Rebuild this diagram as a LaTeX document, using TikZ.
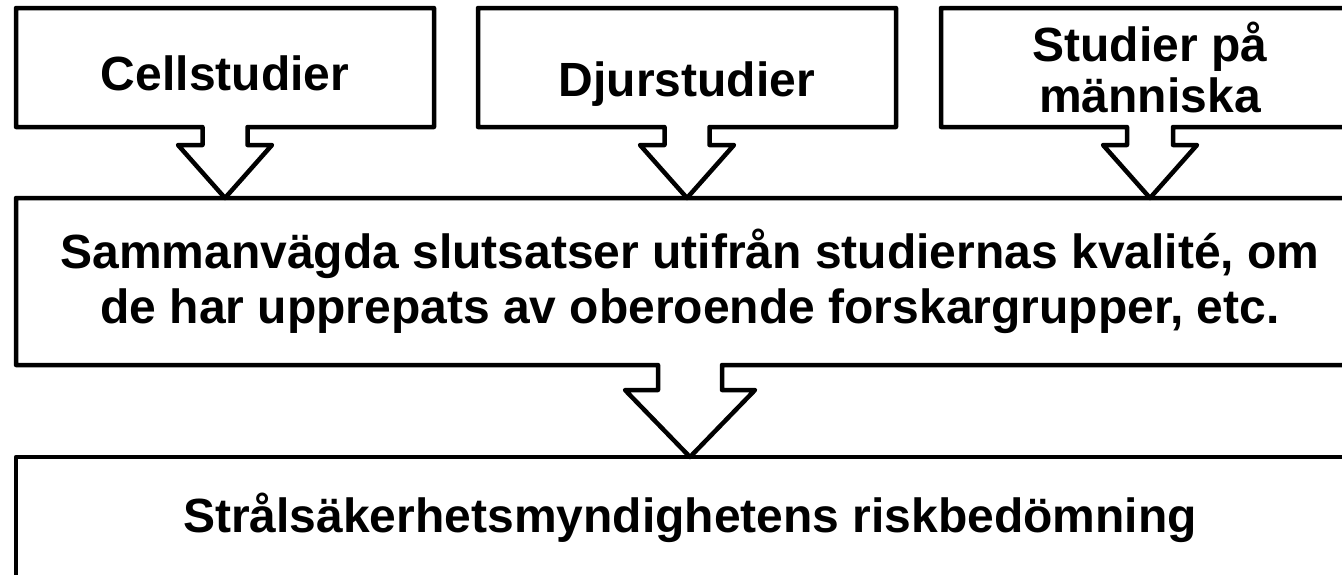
\documentclass[tikz,border=0pt]{standalone}
\usepackage{fontspec}
\setmainfont{Liberation Sans}
\usetikzlibrary{calc}

\tikzset{
	box/.style={rectangle, inner sep=0pt, outer sep=0pt, align=center,
		font=\fontsize{48}{55}\selectfont\bfseries},
	smallbox/.style={box, minimum width=418pt, minimum height=119pt},
	outline/.style={black, line width=4.5pt, line join=round}
}

\begin{document}
\begin{tikzpicture}[x=1pt, y=-1pt]
	\useasboundingbox (0,0) rectangle (1342,574);
	\clip (0,0) rectangle (1342,574);
	
	\node[smallbox, text height=48pt, text depth=3pt] at (225,67.5) (cell) {Cellstudier};
	\node[smallbox, text height=60pt, text depth=3pt] at (687,67.5) (djur) {Djurstudier};
	\node[smallbox, font=\fontsize{48}{51}\selectfont\bfseries, text height=94pt, text depth=5pt]
	at (1150,67.5) (human) {Studier på\\människa};
	
	\node[box, minimum width=1348pt, minimum height=167pt] at (690,281.5) (summa)
	{Sammanvägda slutsatser utifrån studiernas kvalité, om\\de har upprepats av oberoende forskargrupper, etc.};
	
	\node[box, outline, draw, minimum width=1348pt, minimum height=122pt] at (690,518) (risk)
	{Strålsäkerhetsmyndighetens riskbedömning};
	
	% boxes with arrow pointing down to the next box
	\foreach \a/\b/\s/\h/\l in {cell/summa/22.5/47/18, djur/summa/22.5/47/18,
		human/summa/23/47/18, summa/risk/32/65/25}{
		\draw[outline] (\a.south west) -- (\a.north west) -- (\a.north east) -- (\a.south east)
		-- ($(\a.south)+(\s,0)$) -- ($(\a.south)+(\s,\l)$) -- ($(\a.south)+(\h,\l)$)
		-- (\a.south |- \b.north)
		-- ($(\a.south)+(-\h,\l)$) -- ($(\a.south)+(-\s,\l)$) -- ($(\a.south)+(-\s,0)$) -- cycle;
	}
\end{tikzpicture}
\end{document}
